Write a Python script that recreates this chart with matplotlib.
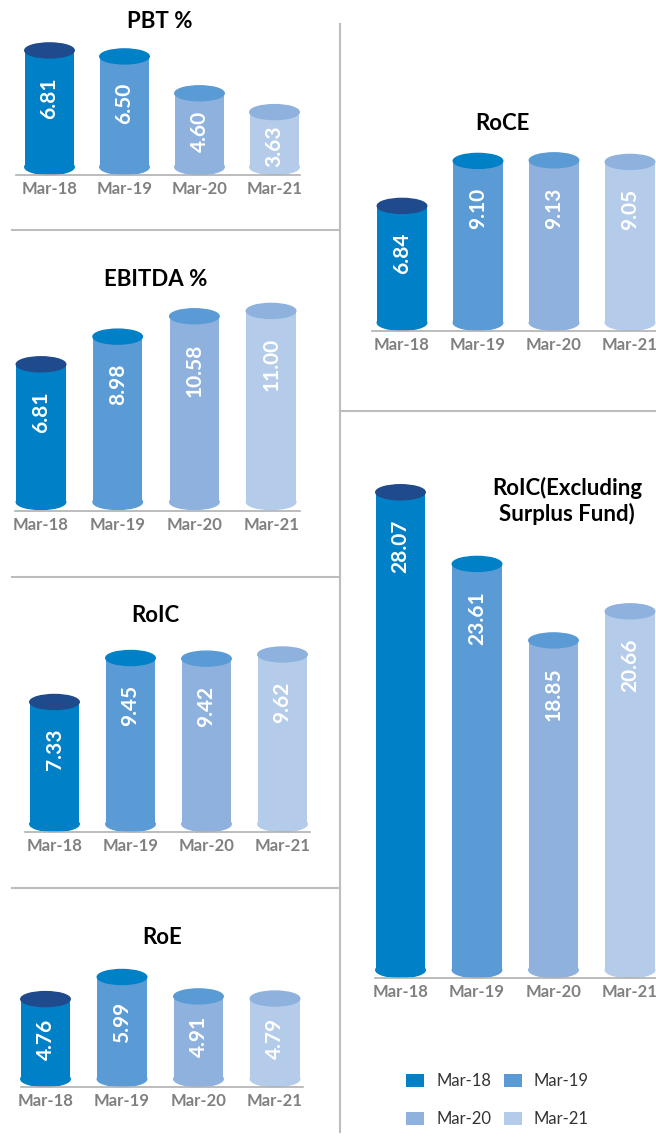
import matplotlib
matplotlib.use("Agg")
import matplotlib.pyplot as plt
from matplotlib.patches import Ellipse, Patch
from matplotlib.lines import Line2D

plt.rcParams['font.family'] = ['Lato', 'DejaVu Sans']

# ---------------- data ----------------
categories = ["Mar-18", "Mar-19", "Mar-20", "Mar-21"]
pbt = [6.81, 6.50, 4.60, 3.63]
ebitda = [6.81, 8.98, 10.58, 11.00]
roic = [7.33, 9.45, 9.42, 9.62]
roe = [4.76, 5.99, 4.91, 4.79]
roce = [6.84, 9.10, 9.13, 9.05]
roic_excl = [28.07, 23.61, 18.85, 20.66]

body_colors = ['#0080C6', '#5B9BD5', '#8FB1DE', '#B4CCEA']
top_colors = ['#1F4A8C', '#0080C6', '#5B9BD5', '#8FB1DE']

W, H = 656, 1147
fig = plt.figure(figsize=(W / 100, H / 100), dpi=100)
fig.patch.set_facecolor('white')


def fx(px):
    return px / W


def fy(py):
    return 1 - py / H


def panel(values, title, L, R, baseline, base_px, scale, v0, c0, pitch,
          title_xy, top_px=None):
    if top_px is None:
        top_px = baseline - 200
    ax = fig.add_axes([fx(L), fy(baseline), (R - L) / W, (baseline - top_px) / H])
    ybl = v0 - (baseline - base_px) / scale
    ax.set_ylim(ybl, ybl + (baseline - top_px) / scale)
    ax.set_xlim((L - c0) / pitch, (R - c0) / pitch)
    bw = 49.5 / pitch
    eh = 15 / scale
    for i, v in enumerate(values):
        ax.bar(i, v - v0, bottom=v0, width=bw, color=body_colors[i], clip_on=False, zorder=2)
        ax.add_patch(Ellipse((i, v0), bw, eh, color=body_colors[i], clip_on=False, zorder=2))
        ax.add_patch(Ellipse((i, v), bw, eh, color=top_colors[i], clip_on=False, zorder=3))
        hpx = (v - v0) * scale
        off = min(27, 0.24 * hpx)
        ax.annotate(f"{v:.2f}", (i, v), xytext=(0, -off), textcoords='offset pixels',
                    rotation=90, ha='center', va='top', color='white', fontsize=15,
                    fontweight='bold', zorder=4, annotation_clip=False)
    for s in ['top', 'right', 'left']:
        ax.spines[s].set_visible(False)
    ax.spines['bottom'].set_color('#B0B0B0')
    ax.spines['bottom'].set_linewidth(1.2)
    ax.set_yticks([])
    ax.set_xticks(range(len(categories)))
    ax.set_xticklabels(categories, color='#808080', fontsize=12, fontweight='bold')
    ax.tick_params(axis='x', length=0, pad=4)
    ax.patch.set_alpha(0)
    fig.text(fx(title_xy[0]), fy(title_xy[1]), title, ha='center', va='center',
             fontsize=16, fontweight='bold', color='black', linespacing=1.2)
    return ax


panel(pbt, "PBT %", 16, 300, 175, 167, 19.4, 0.8, 49.5, 75, (160, 22), top_px=35)
panel(ebitda, "EBITDA %", 15, 300, 511, 502, 12.74, -4.0, 41, 76.7, (156, 279), top_px=300)
panel(roic, "RoIC", 25, 310, 832, 824, 20.75, 1.45, 54.5, 76, (155, 616), top_px=640)
panel(roe, "RoE", 21, 303, 1087, 1079, 17.96, 0.31, 45.5, 76.5, (162, 937), top_px=960)
panel(roce, "RoCE", 372, 656, 331, 322.7, 19.9, 0.97, 402, 76, (502, 124), top_px=150)
panel(roic_excl, "RoIC(Excluding\nSurplus Fund)", 375, 656, 978, 970, 16.07, -1.66, 400.5, 76.5,
      (567, 501), top_px=480)

# ---------------- divider lines ----------------
lc = '#BDBDBD'
fig.add_artist(Line2D([fx(340), fx(340)], [fy(24), fy(1132)], color=lc, lw=1.5))
for yy in [230, 577, 888]:
    fig.add_artist(Line2D([fx(12), fx(340)], [fy(yy), fy(yy)], color=lc, lw=1.5))
fig.add_artist(Line2D([fx(340), fx(656)], [fy(411), fy(411)], color=lc, lw=1.5))

# ---------------- legend ----------------
handles = [Patch(facecolor=c, edgecolor='none') for c in body_colors]
order = [0, 2, 1, 3]
fig.legend([handles[i] for i in order], [categories[i] for i in order],
           ncol=2, loc='upper left', bbox_to_anchor=(fx(406), fy(1073)),
           frameon=False, fontsize=12, handlelength=1.1, handleheight=0.85,
           handletextpad=0.7, columnspacing=0.75, labelspacing=1.35, borderpad=0,
           borderaxespad=0, labelcolor='#333333')

fig.savefig("out.png", dpi=100, facecolor='white')
